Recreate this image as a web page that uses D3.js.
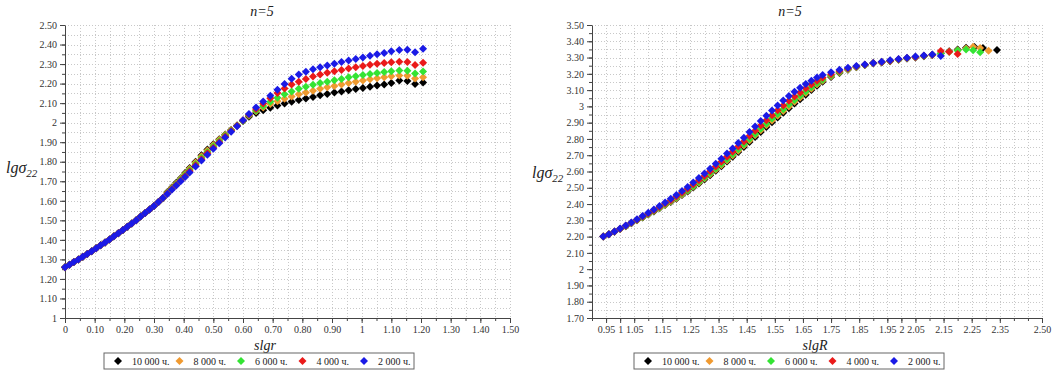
<!DOCTYPE html>
<html><head><meta charset="utf-8">
<script src="https://cdn.jsdelivr.net/npm/d3@7"></script>
<style>
body{margin:0;background:#fff}
svg{display:block}
text{font-family:"Liberation Serif","Times New Roman","DejaVu Serif",serif}
</style>
</head><body>
<svg id="c" width="1054" height="373"></svg>
<script>
// ---------- shared ----------
const seriesLabels = ["10 000 ч.", "8 000 ч.", "6 000 ч.", "4 000 ч.", "2 000 ч."];
const seriesColors = ["#000000", "#f09a30", "#33e433", "#ea1a1a", "#1a1ae6"];
const chartTitle = "n=5";

// ---------- left chart (x = slgr) ----------
const leftXTickLabels = ["0","0.10","0.20","0.30","0.40","0.50","0.60","0.70","0.80","0.90","1","1.10","1.20","1.30","1.40","1.50"];
const leftYTickLabels = ["1","1.10","1.20","1.30","1.40","1.50","1.60","1.70","1.80","1.90","2","2.10","2.20","2.30","2.40","2.50"];
const leftX = [0,0.015,0.03,0.045,0.06,0.075,0.09,0.105,0.12,0.135,0.15,0.165,0.18,0.195,0.21,0.225,0.24,0.255,0.27,0.285,0.30,0.315,0.33,
  0.345,0.36,0.375,0.39,0.405,0.42,0.44,0.46,0.48,0.50,0.52,0.54,0.56,0.58,0.60,0.62,
  0.644,0.668,0.692,0.716,0.74,0.764,0.788,0.812,0.836,0.86,0.884,0.908,0.932,0.956,0.98,1.004,1.028,1.052,1.076,1.10,
  1.127,1.154,1.18,1.207];
const leftYStart = [1.26,1.273,1.287,1.30,1.314,1.328,1.342,1.357,1.372,1.387,1.402,1.418,1.434,1.45,1.467,1.484,1.501,1.519,1.537,1.555,1.574,1.594,1.614];
const leftY10000 = leftYStart.concat([1.645,1.668,1.692,1.716,1.742,1.768,1.80,1.833,1.862,1.89,1.915,1.94,1.963,1.985,2.008,2.03,
  2.05,2.064,2.077,2.088,2.098,2.107,2.116,2.124,2.132,2.14,2.147,2.154,2.16,2.166,2.172,2.178,2.184,2.19,2.196,2.203,2.216,2.213,2.198,2.205]);
const leftY8000 = leftYStart.concat([1.643,1.665,1.689,1.713,1.738,1.764,1.796,1.828,1.858,1.886,1.912,1.938,1.962,1.985,2.01,2.035,
  2.058,2.078,2.095,2.11,2.122,2.134,2.145,2.155,2.164,2.173,2.181,2.188,2.196,2.203,2.21,2.216,2.222,2.228,2.233,2.237,2.242,2.24,2.226,2.232]);
const leftY6000 = leftYStart.concat([1.64,1.662,1.685,1.709,1.733,1.758,1.789,1.82,1.85,1.879,1.906,1.934,1.96,1.985,2.01,2.038,
  2.062,2.085,2.107,2.127,2.145,2.16,2.173,2.184,2.194,2.203,2.21,2.217,2.224,2.232,2.238,2.244,2.249,2.254,2.259,2.263,2.267,2.266,2.252,2.262]);
const leftY4000 = leftYStart.concat([1.637,1.659,1.681,1.704,1.727,1.751,1.782,1.813,1.843,1.872,1.90,1.929,1.957,1.984,2.012,2.04,
  2.07,2.098,2.125,2.152,2.175,2.195,2.21,2.223,2.236,2.246,2.255,2.263,2.27,2.277,2.284,2.29,2.296,2.301,2.305,2.309,2.312,2.31,2.295,2.307]);
const leftY2000 = leftYStart.concat([1.635,1.656,1.678,1.70,1.722,1.745,1.775,1.806,1.836,1.866,1.895,1.924,1.953,1.982,2.012,2.045,
  2.078,2.108,2.138,2.168,2.198,2.225,2.246,2.261,2.273,2.284,2.293,2.302,2.31,2.318,2.326,2.334,2.342,2.35,2.357,2.365,2.372,2.373,2.36,2.378]);

// ---------- right chart (x = slgR) ----------
const rightXTickLabels = ["0.95","1","1.05","1.15","1.25","1.35","1.45","1.55","1.65","1.75","1.85","1.95","2","2.05","2.15","2.25","2.35","2.50"];
const rightYTickLabels = ["1.70","1.80","1.90","2","2.10","2.20","2.30","2.40","2.50","2.60","2.70","2.80","2.90","3","3.10","3.20","3.30","3.40","3.50"];
const rightXCommon = [0.94,0.96,0.98,1.00,1.02,1.04,1.06,1.08,1.10,1.12,1.14,1.16,1.18,1.20,1.22,1.24,1.26,1.28,1.30,1.32,1.34,1.36,1.38,1.40,
  1.42,1.44,1.46,1.48,1.50,1.52,1.54,1.56,1.58,1.60,1.62,1.64,1.66,1.68,1.70,1.72,
  1.75,1.78,1.81,1.84,1.87,1.90,1.93,1.96,1.99,2.02,2.05,2.08,2.11];
const rightX10000 = rightXCommon.concat([2.14,2.17,2.20,2.23,2.26,2.29,2.34]);
const rightX8000 = rightXCommon.concat([2.14,2.17,2.20,2.23,2.255,2.28,2.31]);
const rightX6000 = rightXCommon.concat([2.14,2.17,2.20,2.23,2.255,2.28]);
const rightX4000 = rightXCommon.concat([2.14,2.17,2.20]);
const rightX2000 = rightXCommon.concat([2.14]);
const rightY10000 = [2.20,2.215,2.23,2.247,2.264,2.282,2.30,2.318,2.336,2.355,2.374,2.394,2.413,2.433,2.455,2.477,2.501,2.526,2.551,2.577,2.604,2.632,2.661,2.69,
  2.72,2.75,2.781,2.812,2.843,2.873,2.903,2.932,2.961,2.989,3.017,3.044,3.072,3.10,3.127,3.151,
  3.18,3.205,3.225,3.241,3.254,3.265,3.27,3.278,3.286,3.294,3.301,3.308,3.315,
  3.325,3.338,3.35,3.36,3.365,3.358,3.347];
const rightY8000 = [2.20,2.215,2.23,2.247,2.265,2.283,2.301,2.319,2.338,2.357,2.376,2.396,2.416,2.436,2.459,2.481,2.506,2.531,2.557,2.583,2.61,2.639,2.668,2.698,
  2.728,2.759,2.79,2.822,2.853,2.884,2.914,2.943,2.972,3.0,3.028,3.055,3.082,3.109,3.135,3.157,
  3.185,3.208,3.227,3.242,3.255,3.265,3.271,3.279,3.287,3.295,3.302,3.309,3.316,
  3.325,3.335,3.345,3.355,3.366,3.358,3.342];
const rightY6000 = [2.20,2.215,2.231,2.248,2.265,2.284,2.302,2.32,2.339,2.359,2.378,2.399,2.419,2.44,2.463,2.485,2.51,2.536,2.562,2.589,2.617,2.646,2.676,2.706,
  2.737,2.767,2.799,2.831,2.863,2.894,2.925,2.954,2.983,3.011,3.039,3.065,3.092,3.117,3.142,3.164,
  3.189,3.211,3.229,3.243,3.255,3.266,3.272,3.28,3.288,3.296,3.303,3.31,3.317,
  3.325,3.335,3.343,3.35,3.345,3.332];
const rightY4000 = [2.20,2.215,2.231,2.249,2.266,2.285,2.304,2.323,2.342,2.362,2.382,2.404,2.424,2.446,2.47,2.494,2.52,2.546,2.573,2.601,2.63,2.66,2.69,2.721,
  2.753,2.785,2.818,2.85,2.883,2.915,2.946,2.976,3.006,3.034,3.061,3.086,3.111,3.135,3.157,3.176,
  3.198,3.217,3.232,3.245,3.256,3.266,3.273,3.281,3.289,3.297,3.304,3.311,3.318,
  3.34,3.335,3.322];
const rightY2000 = [2.20,2.215,2.232,2.25,2.268,2.287,2.306,2.326,2.346,2.367,2.388,2.41,2.432,2.455,2.48,2.505,2.532,2.56,2.588,2.617,2.647,2.678,2.71,2.742,
  2.775,2.808,2.842,2.876,2.91,2.943,2.975,3.006,3.036,3.064,3.09,3.114,3.137,3.158,3.177,3.193,
  3.21,3.225,3.237,3.248,3.258,3.267,3.275,3.283,3.291,3.299,3.306,3.313,3.319,
  3.31];

// ---------- drawing ----------
const svg = d3.select("#c");
const FONT = '"Liberation Serif","Times New Roman","DejaVu Serif",serif';
const diamond = r => `M0,${-r}L${r},0L0,${r}L${-r},0Z`;

function drawChart(cfg) {
  const x = d3.scaleLinear().domain(cfg.xDomain).range([cfg.left, cfg.right]);
  const y = d3.scaleLinear().domain(cfg.yDomain).range([cfg.bottom, cfg.top]);
  const g = svg.append("g").style("font-family", FONT);

  // grid (every 0.05)
  const gx = d3.range(Math.round(cfg.xDomain[0]*20), Math.round(cfg.xDomain[1]*20)+1).map(v => v/20);
  const gy = d3.range(Math.round(cfg.yDomain[0]*20), Math.round(cfg.yDomain[1]*20)+1).map(v => v/20);
  const grid = g.append("g").attr("stroke", "#c8c8c8").attr("stroke-width", 1).attr("stroke-dasharray", "1,2");
  grid.selectAll(".gv").data(gx.slice(1)).join("line")
    .attr("x1", d => Math.round(x(d))+0.5).attr("x2", d => Math.round(x(d))+0.5)
    .attr("y1", cfg.top).attr("y2", cfg.bottom);
  grid.selectAll(".gh").data(gy.slice(1)).join("line")
    .attr("y1", d => Math.round(y(d))+0.5).attr("y2", d => Math.round(y(d))+0.5)
    .attr("x1", cfg.left).attr("x2", cfg.right);

  // minor ticks
  g.append("g").attr("transform", `translate(0,${cfg.bottom})`)
    .call(d3.axisBottom(x).tickValues(gx).tickSize(3).tickSizeOuter(0).tickFormat(""))
    .call(a => a.select(".domain").remove());
  g.append("g").attr("transform", `translate(${cfg.left},0)`)
    .call(d3.axisLeft(y).tickValues(gy).tickSize(3).tickSizeOuter(0).tickFormat(""))
    .call(a => a.select(".domain").remove());

  // major axes
  const xa = g.append("g").attr("transform", `translate(0,${cfg.bottom})`)
    .call(d3.axisBottom(x).tickValues(cfg.xLabels.map(Number)).tickFormat((d,i) => cfg.xLabels[i]).tickSize(5).tickSizeOuter(0).tickPadding(3));
  const ya = g.append("g").attr("transform", `translate(${cfg.left},0)`)
    .call(d3.axisLeft(y).tickValues(cfg.yLabels.map(Number)).tickFormat((d,i) => cfg.yLabels[i]).tickSize(5).tickSizeOuter(0).tickPadding(3));
  [xa, ya].forEach(a => {
    a.attr("font-family", null);
    a.selectAll("text").attr("font-size", 10).attr("fill", "#333").style("font-family", FONT);
    a.select(".domain").attr("stroke", "#444");
  });
  g.selectAll(".tick line").attr("stroke", "#444");

  // series
  cfg.series.forEach((s, i) => {
    g.append("g").attr("fill", seriesColors[i])
      .selectAll("path").data(s.xs.map((v, k) => [v, s.ys[k]])).join("path")
      .attr("d", diamond(4))
      .attr("transform", d => `translate(${x(d[0])},${y(d[1])})`);
  });

  // title
  g.append("text").attr("x", cfg.titleX).attr("y", 16).attr("text-anchor", "middle")
    .attr("font-size", 14).attr("font-style", "italic").attr("fill", "#222").text(chartTitle);
  // x title
  g.append("text").attr("x", cfg.xTitleX).attr("y", 350).attr("text-anchor", "middle")
    .attr("font-size", 14).attr("font-style", "italic").attr("fill", "#222").text(cfg.xTitle);
  // y title
  const yt = g.append("text").attr("x", cfg.yTitleX).attr("y", cfg.yTitleY)
    .attr("font-size", 16).attr("font-style", "italic").attr("fill", "#222");
  yt.append("tspan").text("lgσ");
  yt.append("tspan").attr("font-size", 11).attr("dy", 4).text("22");

  // legend
  const lg = g.append("g").attr("transform", `translate(${cfg.legendX},353)`);
  lg.append("rect").attr("x", 0).attr("y", 0).attr("width", 310).attr("height", 16)
    .attr("fill", "#fff").attr("stroke", "#666").attr("stroke-width", 1);
  seriesLabels.forEach((lab, i) => {
    const ox = 14 + i * 61.5;
    lg.append("path").attr("d", diamond(4)).attr("fill", seriesColors[i])
      .attr("transform", `translate(${ox},8)`);
    lg.append("text").attr("x", ox + 14).attr("y", 12).attr("font-size", 10).attr("fill", "#222").text(lab);
  });
}

drawChart({
  xDomain: [0, 1.5], yDomain: [1, 2.5],
  left: 65, right: 510, top: 25, bottom: 318,
  xLabels: leftXTickLabels, yLabels: leftYTickLabels,
  series: [
    {xs: leftX, ys: leftY10000}, {xs: leftX, ys: leftY8000}, {xs: leftX, ys: leftY6000},
    {xs: leftX, ys: leftY4000}, {xs: leftX, ys: leftY2000}
  ],
  titleX: 262, xTitleX: 265, xTitle: "slgr",
  yTitleX: 6, yTitleY: 173, legendX: 104
});
drawChart({
  xDomain: [0.9, 2.5], yDomain: [1.7, 3.5],
  left: 592, right: 1042, top: 25, bottom: 318,
  xLabels: rightXTickLabels, yLabels: rightYTickLabels,
  series: [
    {xs: rightX10000, ys: rightY10000}, {xs: rightX8000, ys: rightY8000}, {xs: rightX6000, ys: rightY6000},
    {xs: rightX4000, ys: rightY4000}, {xs: rightX2000, ys: rightY2000}
  ],
  titleX: 790, xTitleX: 815, xTitle: "slgR",
  yTitleX: 532, yTitleY: 178, legendX: 634
});
</script>
</body></html>
